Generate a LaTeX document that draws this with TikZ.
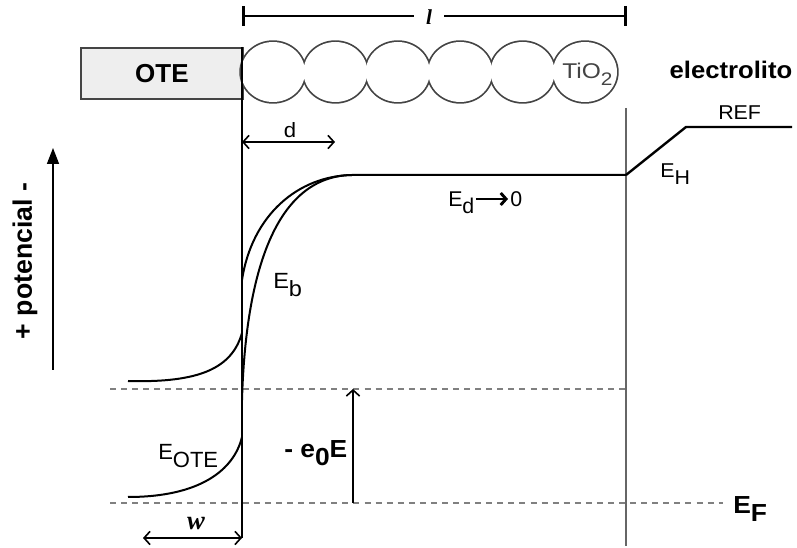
\documentclass[tikz,border=0pt]{standalone}
\usepackage{fontspec}
\setmainfont{Liberation Sans}
\newfontfamily\serifit{Liberation Serif}
\newfontfamily\sfwide[FakeStretch=1.15]{Liberation Sans}
\newfontfamily\sfmid[FakeStretch=1.07]{Liberation Sans}
\definecolor{boxfill}{HTML}{EEEEEE}
\definecolor{dgray}{HTML}{444444}
\definecolor{mgray}{HTML}{666666}
\definecolor{dashgray}{HTML}{808080}
\usetikzlibrary{arrows.meta}
\newcommand\lowtxt[1]{\raisebox{-0.32em}{#1}}
\begin{document}
\begin{tikzpicture}[x=0.75pt,y=-0.75pt,
  line/.style={line width=1.5pt,black},
  dashline/.style={line width=1.4pt,dashgray,dash pattern=on 4.5pt off 3.8pt},
  barb/.style={line width=1.2pt,black,arrows={-Straight Barb[length=4.5pt,width=10pt,line width=1.2pt]}},
  dbarb/.style={line width=1.2pt,black,arrows={Straight Barb[length=4.5pt,width=10pt,line width=1.2pt]-Straight Barb[length=4.5pt,width=10pt,line width=1.2pt]}},
  lab/.style={inner sep=0pt,anchor=base west}]
\useasboundingbox (0,0) rectangle (797,548);

% OTE box
\node[draw=dgray,fill=boxfill,line width=1.3pt,minimum width=162*0.75pt,minimum height=51*0.75pt,anchor=north west,inner sep=0pt] (ote) at (80,47) {};
\node[font=\bfseries\fontsize{19.5}{20}\selectfont] (otetxt) at (ote.center) {OTE};

% TiO2 particles: union outline
\foreach \i in {0,...,5}{
  \draw[dgray,line width=2.6pt] (273+62.4*\i,72) ellipse [x radius=32,y radius=30];
}
\foreach \i in {0,...,5}{
  \fill[white] (273+62.4*\i,72) ellipse [x radius=32,y radius=30];
}
\node[lab,font=\sfwide\fontsize{16}{17}\selectfont,text=dgray] (tio) at (562,79) {TiO\lowtxt{\scalebox{0.85}{2}}};

% film thickness l
\coordinate (lL) at (242,16);
\coordinate (lR) at (627,16);
\node[inner xsep=9pt,inner ysep=0pt,font=\serifit\bfseries\itshape\fontsize{16}{16}\selectfont] (ltxt) at (429,17) {l};
\draw[line width=2.2pt,arrows={Bar[width=15pt,line width=2.2pt]-}] (lL) -- (ltxt.west |- lL);
\draw[line width=2.2pt,arrows={-Bar[width=15pt,line width=2.2pt]}] (ltxt.east |- lR) -- (lR);

% electrolyte
\node[font=\sfmid\bfseries\fontsize{18}{19}\selectfont] (elec) at (731,70) {electrolito};

% interface lines
\coordinate (intTop) at (242,47);
\coordinate (intBot) at (242,538);
\draw[line] (intTop) -- (intBot);
\coordinate (solTop) at (626,108);
\coordinate (solBot) at (626,546);
\draw[mgray,line width=1.6pt] (solTop) -- (solBot);

% dashed levels
\coordinate (dU0) at (110,389); \coordinate (dU1) at (626,389);
\coordinate (dL0) at (110,503); \coordinate (dL1) at (723,503);
\draw[dashline] (dU0) -- (dU1);
\draw[dashline] (dL0) -- (dL1);

% band curves
\coordinate (cA0) at (242,280);
\coordinate (plat) at (352,175);
\coordinate (wall) at (626,175);
\coordinate (kink) at (686,127);
\coordinate (refEnd) at (792,127);
\draw[line] (cA0) .. controls (252,215) and (298,176) .. (plat) -- (wall);
\draw[line] (plat) .. controls (280,176) and (246,262) .. (242,400);
\draw[line width=1.8pt] (wall) -- (kink) -- (refEnd);
\coordinate (cC0) at (128,381); \coordinate (cC1) at (242,333);
\draw[line] (cC0) .. controls (200,383) and (232,368) .. (cC1);
\coordinate (cD0) at (128,497); \coordinate (cD1) at (242,437);
\draw[line] (cD0) .. controls (200,497) and (234,470) .. (cD1);

% potential axis
\coordinate (pB) at (53,370); \coordinate (pT) at (53,148);
\draw[line width=1.2pt,arrows={-Triangle[length=12pt,width=9pt]}] (pB) -- (pT);
\node[rotate=90,font=\bfseries\fontsize{20}{20}\selectfont] (pot) at (25,261) {+ potencial -};

% d
\coordinate (d0) at (242,142); \coordinate (d1) at (335,142);
\draw[dbarb] (d0) -- (d1);
\node[inner sep=0pt,anchor=base,font=\sfmid\fontsize{15.5}{16}\selectfont] (dtxt) at (290,138) {d};

% w
\coordinate (w0) at (143,538); \coordinate (w1) at (242,538);
\draw[dbarb] (w0) -- (w1);
\node[inner sep=0pt,anchor=base,font=\serifit\bfseries\itshape\fontsize{20}{20}\selectfont] (wtxt) at (196,530) {w};

% -e0E
\coordinate (e0) at (353,503); \coordinate (e1) at (353,389);
\draw[barb] (e0) -- (e1);
\node[lab,font=\sfmid\bfseries\fontsize{18.5}{19}\selectfont] (eoe) at (284,458) {- e\lowtxt{0}E};

% labels
\node[lab,font=\sfmid\fontsize{16.5}{17}\selectfont] (eb) at (273,289) {E\lowtxt{b}};
\node[lab,font=\fontsize{16.5}{17}\selectfont] (eote) at (158,460) {E\lowtxt{OTE}};
\node[lab,font=\sfmid\fontsize{15}{16}\selectfont] (eh) at (660,178) {E\lowtxt{H}};
\node[lab,font=\sfmid\fontsize{15}{16}\selectfont] (ref) at (718,120) {REF};
\node[lab,font=\sfmid\bfseries\fontsize{18.5}{19}\selectfont] (ef) at (733,514) {E\lowtxt{F}};
\node[lab,font=\fontsize{16}{17}\selectfont] (ed) at (448,207) {E\lowtxt{d}};
\node[lab,font=\fontsize{16}{17}\selectfont] (zero) at (510,207) {0};
\draw[line width=2.2pt,arrows={-Straight Barb[length=4pt,width=9pt,line width=2.2pt]}] ([xshift=1pt]ed.east |- 0,199) -- ([xshift=-1.5pt]zero.west |- 0,199);
\end{tikzpicture}
\end{document}
